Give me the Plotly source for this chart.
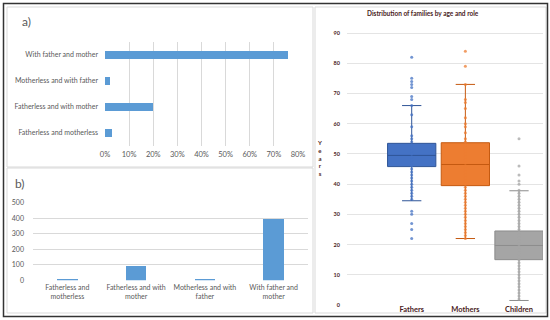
import plotly.graph_objects as go

W, H = 550, 320

# ---------------- data ----------------
a_categories = ["Fatherless and motherless", "Fatherless and with mother",
                "Motherless and with father", "With father and mother"]
a_shares = [0.03, 0.20, 0.02, 0.76]
a_ticks = [0, 0.1, 0.2, 0.3, 0.4, 0.5, 0.6, 0.7, 0.8]
a_ticklabels = ["0%", "10%", "20%", "30%", "40%", "50%", "60%", "70%", "80%"]

b_categories = ["Fatherless and<br>motherless", "Fatherless and with<br>mother",
                "Motherless and with<br>father", "With father and<br>mother"]
b_counts = [8, 92, 5, 400]
b_ticks = [0, 100, 200, 300, 400, 500]

c_roles = ["Fathers", "Mothers", "Children"]
c_q1 = [45.8, 39.5, 15.0]
c_median = [49.5, 46.5, 19.7]
c_q3 = [53.5, 53.7, 24.5]
c_lower = [34.5, 22.0, 1.5]
c_upper = [66.0, 73.0, 37.8]
fathers_ages = [22, 25, 27, 30, 31, 35, 36, 37, 38, 39, 40, 41, 42, 43, 44, 45, 46,
                47, 48, 49, 50, 51, 52, 53, 54, 55, 56, 59, 63, 66, 68, 69, 72, 73,
                74, 75, 82]
mothers_ages = [22, 23, 24, 25, 26, 27, 28, 29, 30, 31, 32, 33, 34, 35, 36, 37, 38,
                39, 40, 41, 42, 43, 44, 45, 46, 47, 48, 49, 50, 51, 52, 53, 54, 55,
                57, 59, 60, 62, 65, 67, 68, 73, 79, 84]
children_ages = [2, 3, 4, 5, 6, 7, 8, 9, 10, 11, 12, 13, 14, 15, 16, 17, 18, 19, 20,
                 21, 22, 23, 24, 25, 26, 27, 28, 29, 30, 31, 32, 33, 34, 35, 36, 37,
                 38, 40, 41, 43, 46, 55]
c_ages = [fathers_ages, mothers_ages, children_ages]
c_ticks = [0, 10, 20, 30, 40, 50, 60, 70, 80, 90]

# ---------------- styles ----------------
BAR_BLUE = "#5B9BD5"
GRID = "#D9D9D9"
TXT = "#595959"
MAROON = "#4A1C1C"
BOX_FILL = ["#4472C4", "#ED7D31", "#A5A5A5"]
BOX_LINE = ["#2F5597", "#C55A11", "#8C8C8C"]
FONT = "Lato"


def px_x(p):
    return p / W


def px_y(p):
    return 1 - p / H


fig = go.Figure()

# panel a: horizontal bars
fig.add_trace(go.Bar(x=a_shares, y=a_categories, orientation="h",
                     marker=dict(color=BAR_BLUE), width=0.3,
                     xaxis="x", yaxis="y", showlegend=False))

# panel b: vertical bars
fig.add_trace(go.Bar(x=b_categories, y=b_counts, marker=dict(color=BAR_BLUE),
                     width=0.3, xaxis="x2", yaxis="y2", showlegend=False))

# panel c: box plots with points
for i, role in enumerate(c_roles):
    fig.add_trace(go.Box(x=[role], q1=[c_q1[i]], median=[c_median[i]], q3=[c_q3[i]],
                         lowerfence=[c_lower[i]], upperfence=[c_upper[i]],
                         fillcolor=BOX_FILL[i], line=dict(color=BOX_LINE[i], width=1),
                         width=0.9, whiskerwidth=0.4, boxpoints=False,
                         xaxis="x3", yaxis="y3", showlegend=False))
    fig.add_trace(go.Scatter(x=[role] * len(c_ages[i]), y=c_ages[i], mode="markers",
                             marker=dict(color=BOX_FILL[i], size=3,
                                         line=dict(width=0)),
                             opacity=0.75, hoverinfo="y",
                             xaxis="x3", yaxis="y3", showlegend=False))

fig.update_layout(
    template="none",
    width=W, height=H,
    margin=dict(l=0, r=0, t=0, b=0, pad=0),
    paper_bgcolor="white", plot_bgcolor="white",
    font=dict(family=FONT, size=8, color=TXT),
    bargap=0,
    xaxis=dict(domain=[px_x(105), px_x(298)], range=[0, 0.8], automargin=False,
               tickvals=a_ticks, ticktext=a_ticklabels,
               showgrid=True, gridcolor=GRID, gridwidth=1,
               zeroline=False, showline=False, ticks="", ticklabelstandoff=2,
               tickfont=dict(size=7.5, color=TXT), fixedrange=True),
    yaxis=dict(domain=[px_y(146), px_y(42)], type="category", automargin=False,
               categoryorder="array", categoryarray=a_categories,
               range=[-0.5, 3.5], showgrid=False, zeroline=False,
               showline=False, ticks="", ticklabelstandoff=6,
               tickfont=dict(size=7, color=TXT), fixedrange=True),
    xaxis2=dict(domain=[px_x(33), px_x(308)], type="category", automargin=False,
                categoryorder="array", categoryarray=b_categories,
                range=[-0.5, 3.5], showgrid=False, zeroline=False,
                showline=False, ticks="", anchor="y2", tickangle=0,
                ticklabelstandoff=2,
                tickfont=dict(size=7, color=TXT), fixedrange=True),
    yaxis2=dict(domain=[px_y(280.3), px_y(202.7)], range=[0, 500],
                automargin=False,
                tickvals=b_ticks, showgrid=True, gridcolor=GRID, gridwidth=1,
                zeroline=False, showline=False, ticks="", anchor="x2",
                ticklabelstandoff=8,
                tickfont=dict(size=7, color=TXT), fixedrange=True),
    xaxis3=dict(domain=[px_x(347), px_x(543)], type="category", automargin=False,
                categoryorder="array", categoryarray=c_roles,
                range=[-1.206, 2.447], showgrid=False, zeroline=False,
                showline=False, ticks="", anchor="y3", ticklabelstandoff=-2,
                tickfont=dict(size=7.5, color=MAROON, family=FONT,
                              weight="bold"), fixedrange=True),
    yaxis3=dict(domain=[px_y(305), px_y(27)], range=[0, 92], automargin=False,
                tickvals=c_ticks, showgrid=True, gridcolor="#E4E4E4",
                gridwidth=1, zeroline=False, showline=False, ticks="",
                anchor="x3", ticklabelstandoff=6,
                tickfont=dict(size=5.5, color=MAROON, weight="bold"),
                fixedrange=True),
)

annotations = [
    dict(text="a)", x=px_x(20), y=px_y(22), xanchor="left", yanchor="middle",
         font=dict(size=12, color=TXT)),
    dict(text="b)", x=px_x(13), y=px_y(183), xanchor="left", yanchor="middle",
         font=dict(size=12, color=TXT)),
    dict(text="Distribution of families by age and role", x=px_x(423),
         y=px_y(14), xanchor="center", yanchor="middle",
         font=dict(size=6.5, color=MAROON, weight="bold")),
    dict(text="Y<br>e<br>a<br>r<br>s", x=px_x(319), y=px_y(158),
         xanchor="center", yanchor="middle",
         font=dict(size=6, color=MAROON, weight="bold")),
]
for an in annotations:
    an.update(xref="paper", yref="paper", showarrow=False)
fig.update_layout(annotations=annotations)

shapes = [
    # panel frames
    dict(x0=px_x(7), x1=px_x(313), y0=px_y(7), y1=px_y(167),
         line=dict(color=GRID, width=1)),
    dict(x0=px_x(7), x1=px_x(313), y0=px_y(168), y1=px_y(313),
         line=dict(color=GRID, width=1)),
    dict(x0=px_x(315), x1=px_x(546), y0=px_y(7), y1=px_y(313),
         line=dict(color=GRID, width=1)),
    # outer frame
    dict(x0=px_x(3.5), x1=px_x(547.5), y0=px_y(3.5), y1=px_y(316.5),
         line=dict(color="#333333", width=1.5)),
]
for s in shapes:
    s.update(type="rect", xref="paper", yref="paper", fillcolor="rgba(0,0,0,0)",
             layer="above")
fig.update_layout(shapes=shapes)

fig.write_html(
    "out.html",
    config={"displayModeBar": False},
    post_script="document.body.style.margin='0';document.body.style.overflow='hidden';",
)
